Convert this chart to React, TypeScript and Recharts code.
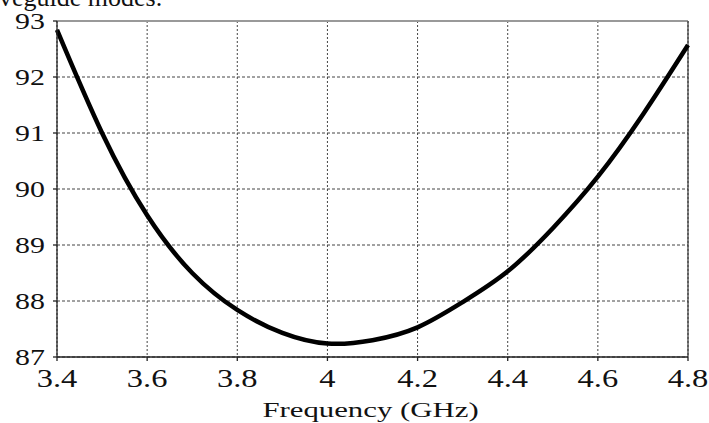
import React from 'react';
import { LineChart, Line, XAxis, YAxis, CartesianGrid, ReferenceLine, Label } from 'recharts';

const frequency = [3.4, 3.5, 3.6, 3.7, 3.8, 3.9, 4.0, 4.1, 4.2, 4.3, 4.4, 4.5, 4.6, 4.7, 4.8];
const values = [92.84, 91.0, 89.53, 88.5, 87.84, 87.43, 87.24, 87.3, 87.53, 87.98, 88.53, 89.3, 90.22, 91.33, 92.57];
const xTicks = [3.4, 3.6, 3.8, 4.0, 4.2, 4.4, 4.6, 4.8];
const yTicks = [87, 88, 89, 90, 91, 92, 93];
const xTickLabels = ['3.4', '3.6', '3.8', '4', '4.2', '4.4', '4.6', '4.8'];
const xAxisTitle = 'Frequency (GHz)';
const topText = 'veguide modes.';

const data = frequency.map((f, i) => ({ f, v: values[i] }));

const font = '"Liberation Serif", "Times New Roman", serif';

const XTick = (props: any) => {
  const { x, y, payload } = props;
  const idx = xTicks.findIndex((t) => Math.abs(t - payload.value) < 1e-6);
  const label = idx >= 0 ? xTickLabels[idx] : String(payload.value);
  return (
    <g transform={`translate(${x},${y + 17})`}>
      <text transform="scale(1.3,1)" textAnchor="middle" fontFamily={font} fontSize={25} fill="#111">
        {label}
      </text>
    </g>
  );
};

const YTick = (props: any) => {
  const { x, y, payload } = props;
  return (
    <g transform={`translate(${x},${y + 7.6})`}>
      <text transform="scale(1.3,1)" textAnchor="end" fontFamily={font} fontSize={23} fill="#111">
        {String(payload.value)}
      </text>
    </g>
  );
};

const XTitle = (props: any) => {
  const vb = props.viewBox || { x: 57, y: 357, width: 631, height: 66 };
  const cx = vb.x + vb.width / 2 - 2;
  const by = vb.y + vb.height - 6;
  return (
    <g transform={`translate(${cx},${by})`}>
      <text transform="scale(1.4,1)" textAnchor="middle" fontFamily={font} fontSize={22} fill="#111">
        {xAxisTitle}
      </text>
    </g>
  );
};

export default function App() {
  return (
    <div style={{ position: 'absolute', left: 0, top: 0, width: 709, height: 423, background: '#fff' }}>
      <svg width={709} height={30} style={{ position: 'absolute', left: 0, top: 0 }}>
        <text x={-1} y={6} fontFamily={font} fontSize={26} fill="#111">{topText}</text>
      </svg>
      <div style={{ position: 'absolute', left: 0, top: 0 }}>
        <LineChart width={709} height={423} data={data} margin={{ top: 21, right: 21, bottom: 0, left: 0 }}>
          <CartesianGrid horizontal={true} vertical={false} stroke="#444" strokeDasharray="3 2" strokeWidth={1} />
          <CartesianGrid horizontal={false} vertical={true} stroke="#444" strokeDasharray="2 2" strokeWidth={1} />
          <XAxis
            dataKey="f"
            type="number"
            domain={[3.4, 4.8]}
            ticks={xTicks}
            height={66}
            tickSize={4}
            tickMargin={9}
            stroke="#222"
            strokeWidth={1.3}
            tick={<XTick />}
            interval={0}
          >
            <Label content={<XTitle />} position="insideBottom" />
          </XAxis>
          <YAxis
            type="number"
            domain={[87, 93]}
            ticks={yTicks}
            width={57}
            tickSize={4}
            tickMargin={8}
            stroke="#222"
            strokeWidth={1.3}
            tick={<YTick />}
            interval={0}
          />
          <ReferenceLine y={93} stroke="#999" strokeWidth={2} />
          <ReferenceLine x={4.8} stroke="#333" strokeWidth={1.2} />
          <Line
            type="natural"
            dataKey="v"
            stroke="#000"
            strokeWidth={4.5}
            dot={false}
            activeDot={false}
            isAnimationActive={false}
          />
        </LineChart>
      </div>
    </div>
  );
}
